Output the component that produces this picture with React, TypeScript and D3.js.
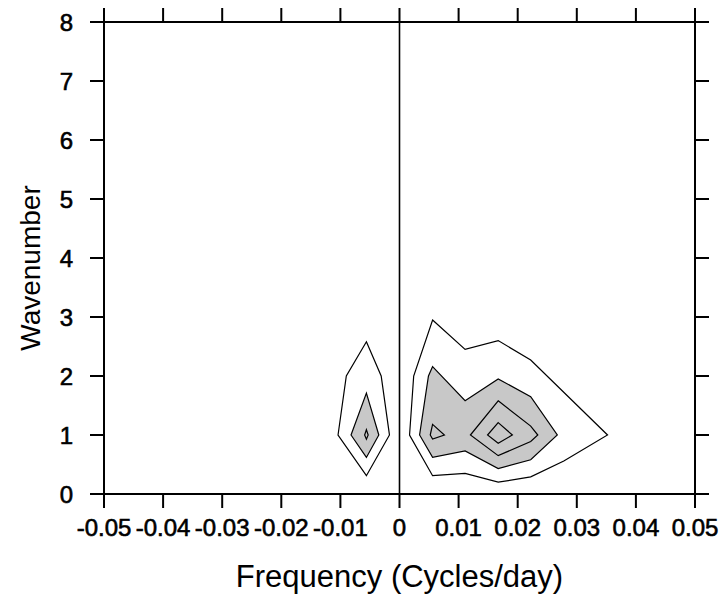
import React from "react";
import * as d3 from "d3";

const xTicks = [-0.05, -0.04, -0.03, -0.02, -0.01, 0, 0.01, 0.02, 0.03, 0.04, 0.05];
const xTickLabels = ["-0.05", "-0.04", "-0.03", "-0.02", "-0.01", "0", "0.01", "0.02", "0.03", "0.04", "0.05"];
const yTicks = [0, 1, 2, 3, 4, 5, 6, 7, 8];

// contour polygons as [frequency, wavenumber] vertices
// level 1 (outer, unfilled)
const westOuter: [number, number][] = [
  [-0.0056, 2.58], [-0.0031, 2.0], [-0.0017, 1.0], [-0.0056, 0.31], [-0.0104, 1.0], [-0.009, 2.0],
];
const eastOuter: [number, number][] = [
  [0.0056, 2.95], [0.0111, 2.45], [0.0167, 2.6], [0.0222, 2.27], [0.0352, 1.0], [0.0278, 0.56],
  [0.0222, 0.29], [0.0167, 0.2], [0.0111, 0.35], [0.0056, 0.31], [0.0017, 1.0], [0.0024, 2.0],
];
// level 2 (shaded)
const westMid: [number, number][] = [
  [-0.0056, 1.71], [-0.0035, 1.0], [-0.0056, 0.62], [-0.0082, 1.0],
];
const eastMid: [number, number][] = [
  [0.0056, 2.16], [0.0111, 1.58], [0.0167, 1.95], [0.0222, 1.65], [0.0267, 1.0], [0.0222, 0.58],
  [0.0167, 0.43], [0.0111, 0.73], [0.0056, 0.62], [0.0034, 1.0], [0.0049, 2.0],
];
// level 3
const westInner: [number, number][] = [
  [-0.0056, 1.09], [-0.0053, 1.0], [-0.0056, 0.93], [-0.0059, 1.0],
];
const eastInnerA: [number, number][] = [
  [0.0056, 1.18], [0.0076, 1.0], [0.0056, 0.93], [0.0052, 1.0],
];
const eastInnerB: [number, number][] = [
  [0.0167, 1.58], [0.0222, 1.15], [0.0234, 1.0], [0.0222, 0.89], [0.0167, 0.65], [0.012, 1.0],
];
// level 4
const eastCore: [number, number][] = [
  [0.0167, 1.21], [0.0191, 1.0], [0.0167, 0.86], [0.0149, 1.0],
];

const W = 722;
const H = 594;
const L = 104, R = 695, T = 22, B = 494;
const TICK = 14;
const FONT = "'Liberation Sans', Arial, Helvetica, sans-serif";

export default function App() {
  const x = d3.scaleLinear().domain([-0.05, 0.05]).range([L, R]);
  const y = d3.scaleLinear().domain([0, 8]).range([B, T]);
  const line = d3
    .line<[number, number]>()
    .x((d) => x(d[0]))
    .y((d) => y(d[1]))
    .curve(d3.curveLinearClosed);

  const unfilled = [westOuter, eastOuter, westInner, eastInnerA, eastInnerB, eastCore];
  const filled = [westMid, eastMid];

  return (
    <svg width={W} height={H} style={{ position: "absolute", left: 0, top: 0, background: "#fff" }}>
      <rect x={0} y={0} width={W} height={H} fill="#fff" />
      {filled.map((p, i) => (
        <path key={"f" + i} d={line(p) || ""} fill="#c8c8c8" stroke="#000" strokeWidth={1.2} />
      ))}
      {unfilled.map((p, i) => (
        <path key={"u" + i} d={line(p) || ""} fill="none" stroke="#000" strokeWidth={1.2} />
      ))}
      <line x1={x(0)} x2={x(0)} y1={T} y2={B} stroke="#000" strokeWidth={1.6} />
      <rect x={L} y={T} width={R - L} height={B - T} fill="none" stroke="#000" strokeWidth={2} />
      {xTicks.map((t, i) => (
        <g key={"xt" + i}>
          <line x1={x(t)} x2={x(t)} y1={B} y2={B + TICK} stroke="#000" strokeWidth={2} />
          <line x1={x(t)} x2={x(t)} y1={T} y2={T - TICK} stroke="#000" strokeWidth={2} />
          <text x={x(t)} y={536} textAnchor="middle" fontFamily={FONT} fontSize={24}
            stroke="#000" strokeWidth={0.6}>
            {xTickLabels[i]}
          </text>
        </g>
      ))}
      {yTicks.map((t, i) => (
        <g key={"yt" + i}>
          <line x1={L} x2={L - TICK} y1={y(t)} y2={y(t)} stroke="#000" strokeWidth={2} />
          <line x1={R} x2={R + TICK} y1={y(t)} y2={y(t)} stroke="#000" strokeWidth={2} />
          <text x={73} y={y(t) + 8.5} textAnchor="end" fontFamily={FONT} fontSize={24}
            stroke="#000" strokeWidth={0.6}>
            {String(t)}
          </text>
        </g>
      ))}
      <text x={(L + R) / 2} y={587} textAnchor="middle" fontFamily={FONT} fontSize={31}>
        Frequency (Cycles/day)
      </text>
      <text
        transform={`translate(40, 268) rotate(-90)`}
        textAnchor="middle"
        fontFamily={FONT}
        fontSize={28}
      >
        Wavenumber
      </text>
    </svg>
  );
}
